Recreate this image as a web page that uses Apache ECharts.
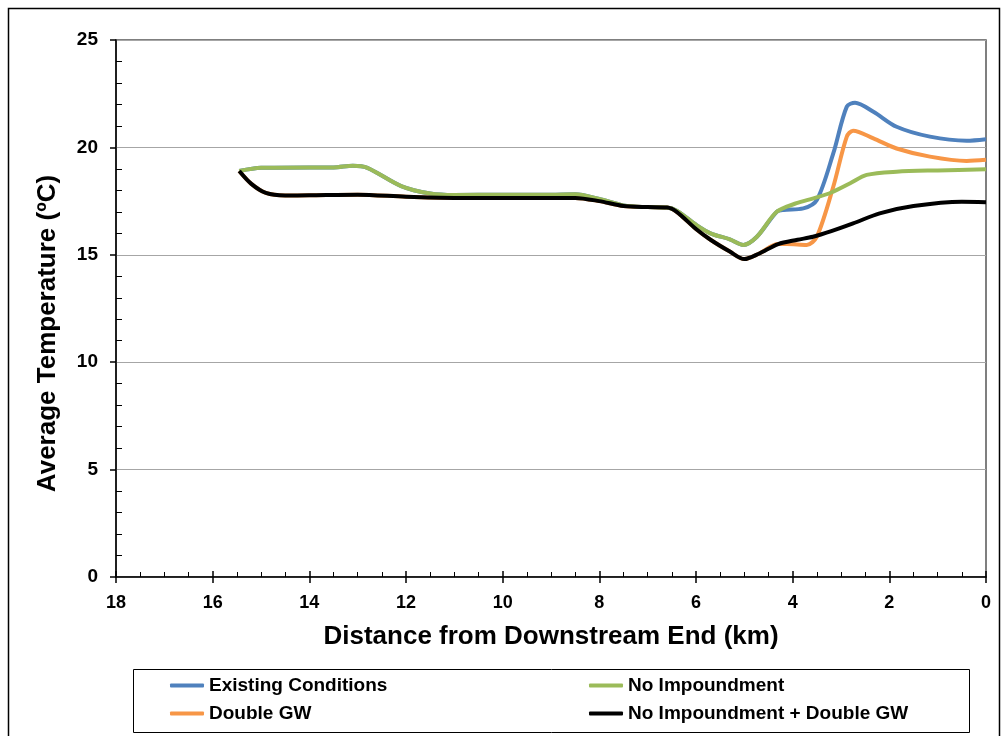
<!DOCTYPE html>
<html>
<head>
<meta charset="utf-8">
<script src="https://cdn.jsdelivr.net/npm/echarts@6/dist/echarts.min.js"></script>
<style>
html, body { margin: 0; padding: 0; background: #fff; }
#chart { width: 1005px; height: 736px; }
</style>
</head>
<body>
<div id="chart"></div>
<script>
// 各工况沿程平均水温 [距离km, 温度]
var existingData = [
    [15.45, 18.9], [15.0, 19.05], [14.0, 19.07], [13.5, 19.07], [13.1, 19.15], [12.8, 19.05],
    [12.1, 18.2], [11.5, 17.85], [11.0, 17.78], [10.0, 17.8], [9.0, 17.8], [8.5, 17.82],
    [8.0, 17.6], [7.5, 17.3], [7.0, 17.22], [6.6, 17.2], [6.4, 17.05], [6.0, 16.4],
    [5.7, 16.0], [5.3, 15.72], [5.02, 15.46], [4.74, 15.84], [4.33, 17.0], [4.19, 17.09],
    [3.78, 17.16], [3.5, 17.55], [3.16, 19.72], [2.88, 21.9], [2.71, 22.08], [2.33, 21.66],
    [1.85, 20.96], [1.16, 20.5], [0.4, 20.31], [0, 20.38]
];
var doubleGwData = [
    [15.45, 18.9], [15.2, 18.3], [14.9, 17.88], [14.5, 17.76], [14.0, 17.77], [13.0, 17.8],
    [12.0, 17.7], [11.0, 17.65], [10.0, 17.65], [9.0, 17.65], [8.5, 17.65], [8.0, 17.5],
    [7.5, 17.27], [7.0, 17.22], [6.6, 17.2], [6.4, 17.0], [6.0, 16.2], [5.7, 15.7],
    [5.3, 15.15], [5.0, 14.8], [4.7, 15.05], [4.3, 15.5], [4.12, 15.5], [3.71, 15.46],
    [3.5, 15.84], [3.16, 18.17], [2.88, 20.5], [2.75, 20.78], [2.33, 20.42], [1.85, 19.95],
    [1.16, 19.57], [0.4, 19.37], [0, 19.42]
];
var noImpData = [
    [15.45, 18.9], [15.0, 19.05], [14.0, 19.07], [13.5, 19.07], [13.1, 19.15], [12.8, 19.05],
    [12.1, 18.2], [11.5, 17.85], [11.0, 17.78], [10.0, 17.8], [9.0, 17.8], [8.5, 17.82],
    [8.0, 17.6], [7.5, 17.3], [7.0, 17.22], [6.6, 17.2], [6.4, 17.05], [6.0, 16.4],
    [5.7, 16.0], [5.3, 15.72], [5.02, 15.46], [4.74, 15.84], [4.33, 17.0], [3.92, 17.4],
    [3.57, 17.63], [3.2, 17.9], [2.81, 18.33], [2.47, 18.72], [1.85, 18.87], [1.0, 18.93],
    [0, 18.98]
];
var noImpDoubleGwData = [
    [15.45, 18.9], [15.2, 18.3], [14.9, 17.88], [14.5, 17.76], [14.0, 17.77], [13.0, 17.8],
    [12.0, 17.7], [11.0, 17.65], [10.0, 17.65], [9.0, 17.65], [8.5, 17.65], [8.0, 17.5],
    [7.5, 17.27], [7.0, 17.22], [6.6, 17.2], [6.4, 17.0], [6.0, 16.2], [5.7, 15.7],
    [5.3, 15.15], [5.0, 14.8], [4.7, 15.05], [4.3, 15.5], [3.9, 15.7], [3.58, 15.84],
    [3.2, 16.1], [2.75, 16.46], [2.2, 16.93], [1.5, 17.27], [0.5, 17.47], [0, 17.45]
];
var seriesNames = ['Existing Conditions', 'Double GW', 'No Impoundment', 'No Impoundment + Double GW'];
var seriesColors = ['#4f81bd', '#f79646', '#9bbb59', '#000000'];

var font = 'Liberation Sans, Arial, sans-serif';
var gridPos = { left: 116, right: 19, top: 40, bottom: 159 };

function line(i, data) {
    return {
        name: seriesNames[i],
        type: 'line',
        smooth: 0.3,
        symbol: 'none',
        xAxisIndex: 0,
        yAxisIndex: 0,
        lineStyle: { width: 4, color: seriesColors[i] },
        itemStyle: { color: seriesColors[i] },
        data: data
    };
}

var legendText = { fontFamily: font, fontWeight: 'bold', fontSize: 19, color: '#000' };

var dom = document.getElementById('chart');
var myChart = echarts.init(dom);
var option = {
    backgroundColor: '#fff',
    animation: false,
    grid: [
        Object.assign({ show: true, borderColor: '#555', borderWidth: 1.5 }, gridPos),
        Object.assign({ show: false }, gridPos)   // 只画内侧小刻度
    ],
    graphic: [{
        type: 'rect',
        shape: { x: 8.5, y: 8.5, width: 991, height: 740 },
        style: { fill: 'none', stroke: '#000', lineWidth: 1.5 },
        silent: true
    }, {
        type: 'rect',
        shape: { x: 133.5, y: 669.5, width: 836, height: 63 },
        style: { fill: 'none', stroke: '#000', lineWidth: 1 },
        silent: true
    }],
    legend: [{
        left: 170, top: 676, padding: 0, orient: 'vertical', itemGap: 9,
        icon: 'roundRect', itemWidth: 34, itemHeight: 4,
        textStyle: legendText,
        data: [seriesNames[0], seriesNames[1]]
    }, {
        left: 589, top: 676, padding: 0, orient: 'vertical', itemGap: 9,
        icon: 'roundRect', itemWidth: 34, itemHeight: 4,
        textStyle: legendText,
        data: [seriesNames[2], seriesNames[3]]
    }],
    xAxis: [{
        type: 'value', min: 0, max: 18, interval: 2, inverse: true, gridIndex: 0,
        name: 'Distance from Downstream End (km)',
        nameLocation: 'middle', nameGap: 47,
        nameTextStyle: { fontFamily: font, fontWeight: 'bold', fontSize: 26, color: '#000' },
        axisLine: { show: true, onZero: false, lineStyle: { color: '#000', width: 1.5 } },
        axisTick: { show: true, length: 6, lineStyle: { color: '#000', width: 1.5 } },
        axisLabel: { margin: 17, fontFamily: font, fontWeight: 'bold', fontSize: 18, color: '#000' },
        splitLine: { show: false }
    }, {
        type: 'value', min: 0, max: 18, interval: 2, inverse: true, gridIndex: 1, position: 'bottom',
        axisLine: { show: false, onZero: false },
        axisTick: { show: true, inside: true, length: 6, lineStyle: { color: '#000', width: 1.5 } },
        minorTick: { show: true, splitNumber: 4, length: 5, lineStyle: { color: '#000', width: 1 } },
        axisLabel: { show: false },
        splitLine: { show: false }
    }],
    yAxis: [{
        type: 'value', min: 0, max: 25, interval: 5, gridIndex: 0, position: 'left',
        name: 'Average Temperature (ºC)',
        nameLocation: 'middle', nameGap: 55,
        nameTextStyle: { fontFamily: font, fontWeight: 'bold', fontSize: 26, color: '#000', padding: [0, 50, 0, 0] },
        axisLine: { show: true, onZero: false, lineStyle: { color: '#000', width: 1.5 } },
        axisTick: { show: true, length: 6, lineStyle: { color: '#000', width: 1.5 } },
        axisLabel: { margin: 18, fontFamily: font, fontWeight: 'bold', fontSize: 19, color: '#000' },
        splitLine: { show: true, lineStyle: { color: '#a6a6a6', width: 1 } }
    }, {
        type: 'value', min: 0, max: 25, interval: 5, gridIndex: 1, position: 'left',
        axisLine: { show: false, onZero: false },
        axisTick: { show: false, inside: true },
        minorTick: { show: true, splitNumber: 5, length: 6, lineStyle: { color: '#000', width: 1 } },
        axisLabel: { show: false },
        splitLine: { show: false }
    }],
    series: [
        line(0, existingData),
        line(1, doubleGwData),
        line(2, noImpData),
        line(3, noImpDoubleGwData)
    ]
};
myChart.setOption(option, true);
window.onresize = myChart.resize;
</script>
</body>
</html>
